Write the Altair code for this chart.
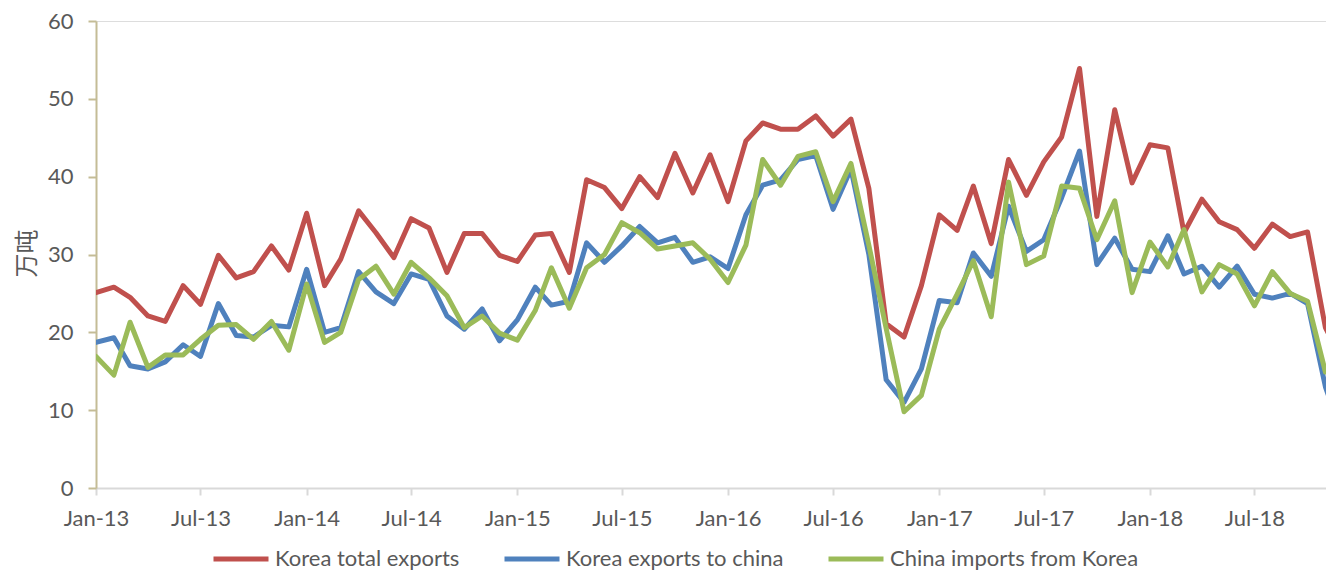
import altair as alt
import pandas as pd

# Monthly categories Jan-13 .. Dec-18
months = pd.date_range("2013-01-01", "2018-12-01", freq="MS").strftime("%Y-%m-%d").tolist()

series_names = ["Korea total exports", "Korea exports to china", "China imports from Korea"]
series_colors = ["#C0504D", "#4F81BD", "#9BBB59"]

korea_total = [25.1, 25.8, 24.5, 22.1, 21.4, 26.0, 23.6, 29.9, 27.0, 27.8, 31.1, 28.0,
               35.3, 26.0, 29.4, 35.6, 32.8, 29.6, 34.6, 33.4, 27.7, 32.7, 32.7, 29.9,
               29.1, 32.5, 32.7, 27.7, 39.6, 38.6, 35.9, 40.0, 37.3, 43.0, 37.9, 42.8,
               36.8, 44.6, 46.9, 46.1, 46.1, 47.8, 45.2, 47.4, 38.5, 21.1, 19.4, 26.0,
               35.1, 33.1, 38.8, 31.4, 42.2, 37.6, 41.9, 45.1, 53.9, 34.9, 48.6, 39.2,
               44.1, 43.7, 32.8, 37.1, 34.2, 33.2, 30.8, 33.9, 32.3, 32.9, 20.6, 16.3]

korea_to_china = [18.7, 19.3, 15.7, 15.3, 16.2, 18.4, 16.9, 23.7, 19.6, 19.4, 20.9, 20.7,
                  28.1, 20.0, 20.6, 27.8, 25.2, 23.7, 27.5, 26.8, 22.1, 20.4, 23.0, 18.9,
                  21.6, 25.8, 23.5, 24.0, 31.5, 29.0, 31.1, 33.6, 31.5, 32.2, 29.0, 29.7,
                  28.2, 35.1, 38.9, 39.6, 42.2, 42.7, 35.8, 41.0, 30.0, 13.9, 11.0, 15.3,
                  24.1, 23.8, 30.2, 27.2, 36.2, 30.4, 31.9, 37.3, 43.3, 28.7, 32.1, 28.1,
                  27.8, 32.4, 27.5, 28.5, 25.8, 28.5, 24.9, 24.4, 25.0, 23.7, 13.0, 6.7]

china_from_korea = [16.9, 14.5, 21.3, 15.5, 17.1, 17.1, 19.1, 20.9, 21.0, 19.1, 21.4, 17.7,
                    26.2, 18.7, 20.0, 26.8, 28.5, 24.9, 29.0, 27.0, 24.7, 20.6, 22.1, 19.9,
                    19.0, 22.8, 28.3, 23.1, 28.3, 30.0, 34.1, 32.8, 30.7, 31.1, 31.5, 29.4,
                    26.4, 31.2, 42.2, 38.9, 42.6, 43.2, 36.8, 41.7, 31.2, 20.5, 9.8, 11.9,
                    20.4, 24.9, 29.2, 22.0, 39.3, 28.7, 29.8, 38.8, 38.5, 31.9, 36.9, 25.1,
                    31.6, 28.4, 33.2, 25.2, 28.7, 27.5, 23.4, 27.8, 25.0, 24.0, 14.9, None]

x_tick_dates = pd.date_range("2013-01-01", "2018-07-01", freq="6MS").strftime("%Y-%m-%d").tolist()


def to_ms(s):
    return int(pd.Timestamp(s, tz="UTC").value // 10**6)


rows = []
for name, vals in zip(series_names, [korea_total, korea_to_china, china_from_korea]):
    for m, v in zip(months, vals):
        if v is not None:
            rows.append({"date": to_ms(m), "series": name, "value": v})
df = pd.DataFrame(rows)

x_start = to_ms("2013-01-01")
x_end = x_start + 2131 * 86400000
tick_values = [to_ms(d) for d in x_tick_dates]

FONT = "Lato"
GRAY = "#595959"

x_enc = alt.X(
    "date:T",
    scale=alt.Scale(type="utc", domain=[x_start, x_end]),
    axis=alt.Axis(
        values=tick_values,
        labelExpr="utcFormat(datum.value, '%b-%y')",
        title=None,
        grid=False,
        domainColor="#D9D9D9",
        domainWidth=2,
        tickColor="#D9D9D9",
        tickWidth=2,
        tickSize=7,
        labelPadding=13,
        labelFont=FONT,
        labelFontSize=22,
        labelColor=GRAY,
        labelAlign="center",
    ),
)

y_enc = alt.Y(
    "value:Q",
    scale=alt.Scale(domain=[0, 60], nice=False, zero=True),
    axis=alt.Axis(
        values=[0, 10, 20, 30, 40, 50, 60],
        title="万吨",
        titleFont="Noto Sans CJK SC",
        titleFontSize=24,
        titleFontWeight="normal",
        titleColor=GRAY,
        titleAngle=270,
        titleX=-69,
        titleY=232,
        titleAlign="center",
        titleBaseline="middle",
        grid=False,
        domainColor="#C4BC96",
        domainWidth=2,
        tickColor="#C4BC96",
        tickWidth=2,
        tickSize=8,
        labelPadding=15,
        labelFont=FONT,
        labelFontSize=22,
        labelColor=GRAY,
    ),
)

color_enc = alt.Color(
    "series:N",
    scale=alt.Scale(domain=series_names, range=series_colors),
    legend=alt.Legend(
        title=None,
        orient="none",
        legendX=115,
        legendY=508,
        direction="horizontal",
        symbolType="stroke",
        symbolSize=3025,
        symbolStrokeWidth=5,
        labelFont=FONT,
        labelFontSize=22,
        labelColor=GRAY,
        labelOffset=4,
        columnPadding=34,
        padding=0,
        labelLimit=400,
    ),
)

layers = []
for name in series_names:
    layers.append(
        alt.Chart(df)
        .transform_filter(alt.datum.series == name)
        .mark_line(strokeWidth=5, strokeJoin="round", strokeCap="round", clip=True)
        .encode(x=x_enc, y=y_enc, color=color_enc)
    )

chart = (
    alt.layer(*layers)
    .properties(
        width=1230,
        height=467,
        autosize=alt.AutoSizeParams(type="none"),
        padding={"left": 88, "top": 13, "right": 0, "bottom": 86},
    )
    .configure_view(stroke=None)
    .configure(background="white")
)

chart.save("out.html", embed_options={"renderer": "svg", "actions": False})
